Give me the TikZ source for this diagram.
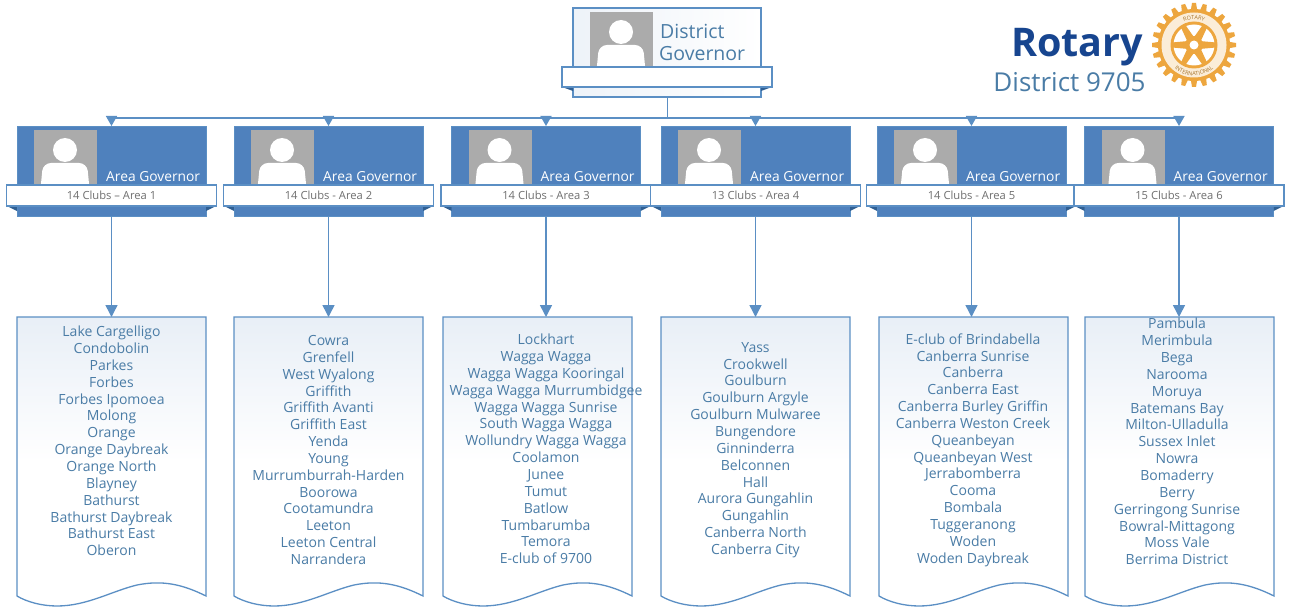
\documentclass[tikz,border=0pt]{standalone}
\usepackage{fontspec}
\setmainfont{Open Sans}
\usetikzlibrary{arrows.meta,decorations.text}
\definecolor{rblue}{HTML}{4F81BD}
\definecolor{rline}{HTML}{5B8FC4}
\definecolor{rdark}{HTML}{2F5F93}
\definecolor{rtext}{HTML}{4A7CA6}
\definecolor{rgrey}{HTML}{ABABAB}
\definecolor{rband}{HTML}{6F6F6F}
\definecolor{rnavy}{HTML}{17458F}
\definecolor{rgold}{HTML}{EDA63E}
\tikzset{
  x=1pt,y=-1pt,
  areabox/.style={draw=rline,fill=rblue,line width=.8pt,minimum width=189pt,minimum height=90pt,inner sep=0pt,outer sep=0pt},
  bandbox/.style={draw=rline,fill=white,line width=1.2pt,minimum width=210pt,minimum height=21pt,inner sep=0pt,outer sep=0pt,font=\fontsize{11.2}{13}\selectfont,text=rband},
  tail/.style={fill=rdark,draw=none},
  photo/.style={fill=rgrey,draw=none},
  areatitle/.style={text=white,font=\fontsize{13.8}{16}\selectfont,inner sep=0pt,anchor=west},
  docframe/.style={minimum width=189pt,minimum height=283pt,inner sep=0pt,outer sep=0pt},
  docline/.style={draw=rline,line width=1.3pt,top color=rblue!13,bottom color=white,middle color=white},
  clubs/.style={align=center,text=rtext,font=\fontsize{14}{16.85}\selectfont,inner sep=0pt},
  link/.style={draw=rline,line width=1.5pt},
  arrowlink/.style={link,-{Triangle[length=10pt,width=11pt]}},
  downlink/.style={link,-{Triangle[length=12pt,width=12pt]}},
}
\newcommand{\personicon}[2]{% left x, bottom y
  \fill[photo] (#1,#2-55) rectangle (#1+63,#2);
  \fill[white] (#1+31,#2-35) circle[radius=12];
  \fill[white,rounded corners=8pt] (#1+6,#2+9) -- (#1+9,#2-22) -- (#1+53,#2-22) -- (#1+56,#2+9) -- cycle;
  \fill[photo] (#1,#2) rectangle (#1+63,#2+10);
}
\newcommand{\areaunit}[4]{% id, box left, centre, band text
  \node[areabox] (a#1) at (#3,171) {};
  \personicon{#2+17}{185}
  \fill[rblue] (#2+0.5,185) rectangle (#2+188.5,215.5);
  \node[areatitle] (g#1) at (#2+89,177) {Area Governor};
  \fill[tail] (#2-10,206) -- (#2,211) -- (#2,206) -- cycle;
  \fill[tail] (#2+199,206) -- (#2+189,211) -- (#2+189,206) -- cycle;
  \node[bandbox] (b#1) at (#3,195.5) {#4};
}
\newcommand{\docunit}[3]{% id, left, text
  \node[docframe] (d#1) at (#2+94.5,458.5) {};
  \path[docline] (#2,317) -- (#2+189,317) -- (#2+189,596)
    .. controls (#2+165,584) and (#2+145,580) .. (#2+120,585)
    .. controls (#2+95,591) and (#2+70,606) .. (#2+40,606)
    .. controls (#2+25,606) and (#2+10,602) .. (#2,596) -- cycle;
}
\begin{document}
\begin{tikzpicture}
\useasboundingbox (0,0) rectangle (1296,607);
\fill[white] (0,0) rectangle (1296,607);

% District Governor
\node[draw=rline,line width=1.1pt,left color=rblue!10,right color=white,minimum width=188pt,minimum height=89pt,inner sep=0pt,outer sep=0pt] (dg) at (667,52.5) {};
\fill[rgrey] (590,12) rectangle (653,67);
\fill[white] (621,32) circle[radius=12];
\fill[white,rounded corners=8pt] (596,76) -- (599,45) -- (643,45) -- (646,76) -- cycle;
\node[text=rtext,font=\fontsize{19.5}{22}\selectfont,inner sep=0pt,anchor=west] (dgt1) at (660,31) {District};
\node[text=rtext,font=\fontsize{19.5}{22}\selectfont,inner sep=0pt,anchor=west] (dgt2) at (659,54) {Governor};
\fill[tail] (562,87) -- (573,91) -- (573,87) -- cycle;
\fill[tail] (772,87) -- (761,91) -- (761,87) -- cycle;
\node[draw=rline,fill=white,line width=1.1pt,minimum width=210pt,minimum height=20pt,inner sep=0pt,outer sep=0pt] (dgband) at (667,77) {};

% Areas
\areaunit{1}{17}{111.5}{14 Clubs – Area 1}
\areaunit{2}{234}{328.5}{14 Clubs - Area 2}
\areaunit{3}{451.5}{546}{14 Clubs - Area 3}
\areaunit{4}{661}{755.5}{13 Clubs - Area 4}
\areaunit{5}{877}{971.5}{14 Clubs - Area 5}
\areaunit{6}{1084.5}{1179}{15 Clubs - Area 6}

% Club lists
\docunit{1}{17}{}
\docunit{2}{234}{}
\docunit{3}{443}{}
\docunit{4}{661}{}
\docunit{5}{879}{}
\docunit{6}{1085}{}

\node[clubs] (t1) at (111.5,441) {Lake Cargelligo\\Condobolin\\Parkes\\Forbes\\Forbes Ipomoea\\Molong\\Orange\\Orange Daybreak\\Orange North\\Blayney\\Bathurst\\Bathurst Daybreak\\Bathurst East\\Oberon};
\node[clubs] (t2) at (328.5,450) {Cowra\\Grenfell\\West Wyalong\\Griffith\\Griffith Avanti\\Griffith East\\Yenda\\Young\\Murrumburrah-Harden\\Boorowa\\Cootamundra\\Leeton\\Leeton Central\\Narrandera};
\node[clubs] (t3) at (546,449) {Lockhart\\Wagga Wagga\\Wagga Wagga Kooringal\\Wagga Wagga Murrumbidgee\\Wagga Wagga Sunrise\\South Wagga Wagga\\Wollundry Wagga Wagga\\Coolamon\\Junee\\Tumut\\Batlow\\Tumbarumba\\Temora\\E-club of 9700};
\node[clubs] (t4) at (755.5,450) {Yass\\Crookwell\\Goulburn\\Goulburn Argyle\\Goulburn Mulwaree\\Bungendore\\Ginninderra\\Belconnen\\Hall\\Aurora Gungahlin\\Gungahlin\\Canberra North\\Canberra City};
\node[clubs] (t5) at (973,450) {E-club of Brindabella\\Canberra Sunrise\\Canberra\\Canberra East\\Canberra Burley Griffin\\Canberra Weston Creek\\Queanbeyan\\Queanbeyan West\\Jerrabomberra\\Cooma\\Bombala\\Tuggeranong\\Woden\\Woden Daybreak};
\node[clubs] (t6) at (1177,441.5) {Pambula\\Merimbula\\Bega\\Narooma\\Moruya\\Batemans Bay\\Milton-Ulladulla\\Sussex Inlet\\Nowra\\Bomaderry\\Berry\\Gerringong Sunrise\\Bowral-Mittagong\\Moss Vale\\Berrima District};

% Connectors
\coordinate (bus) at (667,118);
\draw[link,line width=1pt] (dg.south) -- (bus);
\draw[link] (a1.north |- bus) -- (a6.north |- bus);
\foreach \i in {1,...,6}{
  \draw[arrowlink] (a\i.north |- bus) -- (a\i.north);
  \draw[downlink] (a\i.south) -- (a\i.south |- d\i.north);
}

% Rotary logo
\node[text=rnavy,font=\bfseries\fontsize{39.5}{44}\selectfont,inner sep=0pt] (rot) at (1077,47) {Rotary};
\node[text=rtext,font=\fontsize{26}{30}\selectfont,inner sep=0pt] (dist) at (1069.5,82) {District 9705};
\begin{scope}[shift={(1194,45)}]
  \foreach \a in {0,15,...,345}{
    \fill[rgold,rotate=\a] (-4pt,30pt) -- (-2pt,42pt) -- (2pt,42pt) -- (4pt,30pt) -- cycle;
  }
  \fill[rgold] (0,0) circle[radius=36pt];
  \fill[white!80!rgold] (0,0) circle[radius=32.5pt];
  \fill[rgold] (0,0) circle[radius=23.5pt];
  \fill[white] (0,0) circle[radius=20.5pt];
  \foreach \a in {30,90,...,330}{
    \fill[rgold,rotate=\a] (-4.5pt,0pt) -- (-2.5pt,22pt) -- (2.5pt,22pt) -- (4.5pt,0pt) -- cycle;
  }
  \fill[rgold] (0,0) circle[radius=9pt];
  \fill[white] (0,0) circle[radius=4.5pt];
  \path[decorate,decoration={text along path,text align=center,text color=rgold!70!black,text={|\fontsize{5.5}{6}\selectfont|ROTARY}}]
    (150:25.5pt) arc[start angle=150,end angle=30,radius=25.5pt];
  \path[decorate,decoration={text along path,text align=center,text color=rgold!70!black,text={|\fontsize{5.5}{6}\selectfont|INTERNATIONAL}}]
    (210:30.5pt) arc[start angle=210,end angle=330,radius=30.5pt];
\end{scope}
\end{tikzpicture}
\end{document}
